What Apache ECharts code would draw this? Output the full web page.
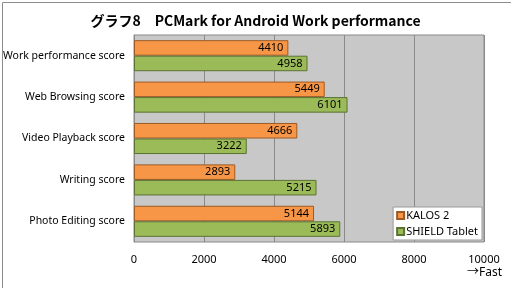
<!DOCTYPE html>
<html><head><meta charset="utf-8">
<script src="https://cdn.jsdelivr.net/npm/echarts@6/dist/echarts.min.js"></script>
<style>html,body{margin:0;padding:0;background:#fff}#c{width:511px;height:288px}</style>
</head><body><div id="c"></div>
<script>
const categories = ["Work performance score","Web Browsing score","Video Playback score","Writing score","Photo Editing score"];
const kalos2 = [4410,5449,4666,2893,5144];
const shield = [4958,6101,3222,5215,5893];
const xTicks = [0,2000,4000,6000,8000,10000];
const seriesNames = ["KALOS 2","SHIELD Tablet"];

const chart = echarts.init(document.getElementById('c'), null, {renderer:'canvas'});
const font = '"Noto Sans", "Noto Sans CJK JP", sans-serif';
const lbl = {show:true, position:'insideRight', color:'#000', fontSize:11, fontFamily:font, distance:5};
chart.setOption({
  animation:false,
  textStyle:{fontFamily:font},
  title:{text:"グラフ8　PCMark for Android Work performance", left:'center', top:9,
    textStyle:{fontSize:14, fontWeight:'bold', color:'#000', fontFamily:'"Noto Sans CJK JP", sans-serif'}},
  grid:{left:134, right:27, top:35, bottom:46, outerBoundsMode:'none', containLabel:false,
    show:true, backgroundColor:'#c8c8c8', borderColor:'#8a8a8a', borderWidth:1},
  legend:{orient:'vertical', right:29, top:207, backgroundColor:'#fff', borderColor:'#9a9a9a', borderWidth:1,
    padding:[3,4,3,3], itemGap:5, itemWidth:7, itemHeight:7, icon:'rect',
    textStyle:{fontSize:11, color:'#000', fontFamily:font, padding:[0,0,0,-3]}, data:seriesNames},
  xAxis:{type:'value', min:0, max:10000, interval:2000,
    axisLine:{show:false}, axisTick:{show:false},
    splitLine:{lineStyle:{color:'#8a8a8a', width:1}},
    axisLabel:{color:'#000', fontSize:11, margin:12, fontFamily:font,
      formatter:function(v){ return xTicks.indexOf(v) >= 0 ? String(v) : ''; }}},
  yAxis:{type:'category', data:categories, inverse:true,
    axisLine:{lineStyle:{color:'#8a8a8a'}}, axisTick:{show:false},
    axisLabel:{color:'#000', fontSize:10.5, margin:9, fontFamily:font}},
  series:[
    {name:seriesNames[0], type:'bar', data:kalos2, barGap:'0%', barCategoryGap:'25%',
      itemStyle:{color:'#F79646', borderColor:'#9c5a24', borderWidth:1}, label:lbl},
    {name:seriesNames[1], type:'bar', data:shield,
      itemStyle:{color:'#9BBB59', borderColor:'#5b7233', borderWidth:1}, label:lbl}
  ],
  graphic:[
    {type:'rect', left:0, top:0, shape:{x:0.5, y:0.5, width:510, height:287}, style:{fill:null, stroke:'#8c8c8c', lineWidth:1}, silent:true},
    {type:'text', right:9, top:267, style:{text:'→Fast', fontSize:12, fill:'#000', fontFamily:font}}
  ]
});
</script></body></html>
